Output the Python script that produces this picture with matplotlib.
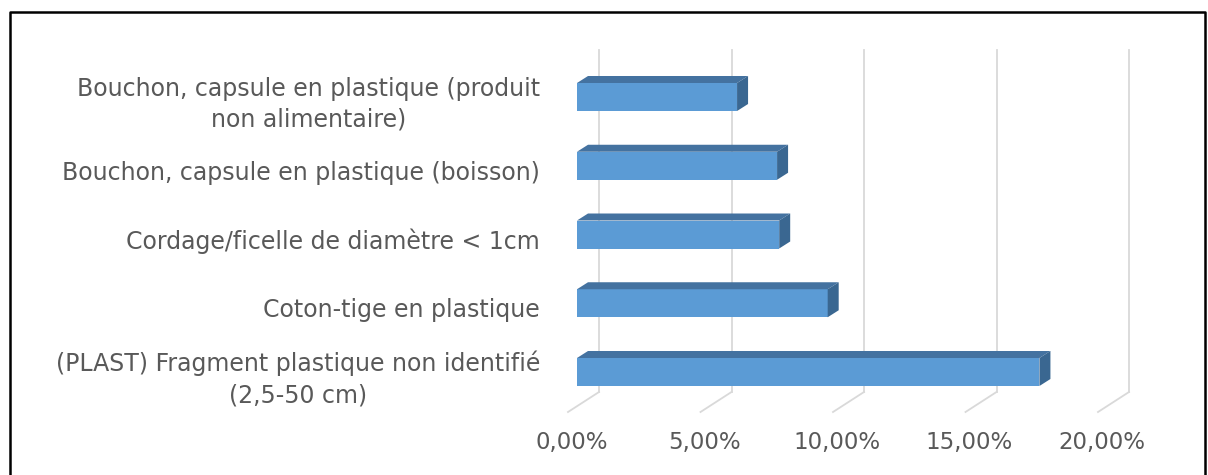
import matplotlib
matplotlib.use("Agg")
import matplotlib.pyplot as plt
from matplotlib.patches import Polygon
from matplotlib.lines import Line2D
from matplotlib.transforms import offset_copy, IdentityTransform

# donnees (de haut en bas sur le graphique)
categories = [
    "Bouchon, capsule en plastique (produit\nnon alimentaire)",
    "Bouchon, capsule en plastique (boisson)",
    "Cordage/ficelle de diamètre < 1cm",
    "Coton-tige en plastique",
    "(PLAST) Fragment plastique non identifié\n(2,5-50 cm)",
]
valeurs = [6.04, 7.55, 7.63, 9.46, 17.45]
graduations = [0, 5, 10, 15, 20]
etiquettes_x = ["0,00%", "5,00%", "10,00%", "15,00%", "20,00%"]

plt.rcParams["font.family"] = ["DejaVu Sans"]
gris = "#595959"
bleu = "#5B9BD5"
bleu_dessus = "#4472A0"
bleu_cote = "#3A6791"
grille = "#D9D9D9"

W, H = 1208, 475
fig = plt.figure(figsize=(W / 100, H / 100), dpi=100)
fig.patch.set_facecolor("white")

# axe place dans le plan des barres (pixels)
x0, x1 = 577, 1107
ytop, ybot = 30, 420
ax = fig.add_axes([x0 / W, 1 - ybot / H, (x1 - x0) / W, (ybot - ytop) / H])
ax.set_xlim(0, 20)
pas = 68.75
ax.set_ylim((372 - ybot) / pas, (372 - ytop) / pas)
ax.axis("off")

n = len(categories)
pos = [n - 1 - i for i in range(n)]
haut = 28 / pas

# profondeur 3D en pixels
ddx, ddy = 11, 7


def pt(x, y, dx=0, dy=0):
    px, py = ax.transData.transform((x, y))
    return (px + dx, py + dy)


# grille du fond + lignes du sol
for g in graduations:
    a = pt(g, 0, 22, 0)
    top_y = fig.bbox.height - 50
    bot_y = fig.bbox.height - 392
    floor_y = fig.bbox.height - 412
    fig.add_artist(Line2D([a[0], a[0]], [bot_y, top_y], color=grille, lw=1.3,
                          transform=IdentityTransform(), zorder=-1))
    fig.add_artist(Line2D([a[0], a[0] - 31], [bot_y, floor_y], color=grille, lw=1.3,
                          transform=IdentityTransform(), zorder=-1))

# barres
ax.barh(pos, valeurs, height=haut, color=bleu, zorder=3)
for p, v in zip(pos, valeurs):
    t = p + haut / 2
    b = p - haut / 2
    dessus = [pt(0, t), pt(v, t), pt(v, t, ddx, ddy), pt(0, t, ddx, ddy)]
    cote = [pt(v, b), pt(v, t), pt(v, t, ddx, ddy), pt(v, b, ddx, ddy)]
    fig.add_artist(Polygon(dessus, closed=True, facecolor=bleu_dessus, edgecolor="none",
                           transform=IdentityTransform(), zorder=4))
    fig.add_artist(Polygon(cote, closed=True, facecolor=bleu_cote, edgecolor="none",
                           transform=IdentityTransform(), zorder=4))

# etiquettes des categories
tr = offset_copy(ax.get_yaxis_transform(), fig=fig, x=-37, y=-7, units="dots")
for p, c in zip(pos, categories):
    ax.text(0, p, c, transform=tr, ha="right", va="center", multialignment="center",
            fontsize=17, color=gris, linespacing=1.35)

# etiquettes de l'axe x
trx = offset_copy(ax.get_xaxis_transform(), fig=fig, x=-5, y=0, units="dots")
for g, e in zip(graduations, etiquettes_x):
    ax.text(g, (ybot - 442) / (ybot - ytop), e, transform=trx, ha="center", va="center",
            fontsize=16.5, color=gris, clip_on=False)

# cadre
fig.add_artist(Line2D([10 / W, 10 / W, 1205 / W, 1205 / W], [0, 1 - 12 / H, 1 - 12 / H, 0],
                      color="black", lw=1.8, transform=fig.transFigure))

fig.savefig("out.png", dpi=100, facecolor="white")
